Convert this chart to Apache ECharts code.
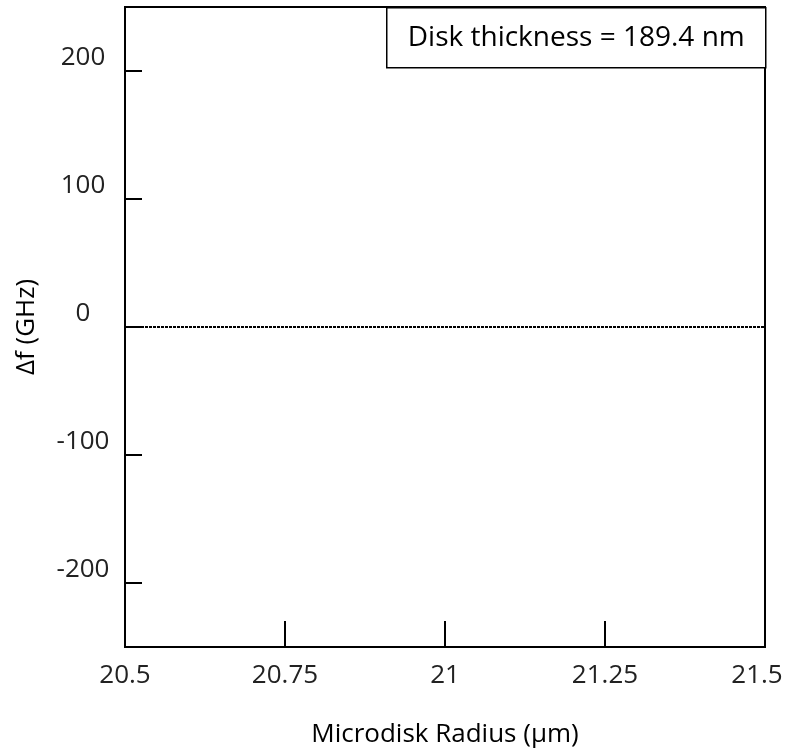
<!DOCTYPE html>
<html><head><meta charset="utf-8">
<script src="https://cdn.jsdelivr.net/npm/echarts@6/dist/echarts.min.js"></script>
<style>html,body{margin:0;padding:0;background:#fff}#c{width:786px;height:751px}</style>
</head><body><div id="c"></div>
<script>
var xTicks = [20.5, 20.75, 21, 21.25, 21.5];
var yTicks = [-200, -100, 0, 100, 200];
var zeroLineX = [20.5, 21.5];
var zeroLineY = [0, 0];
var xTitle = 'Microdisk Radius (µm)';
var yTitle = 'Δf (GHz)';
var boxText = 'Disk thickness = 189.4 nm';

var FONT = 'Open Sans';
var chart = echarts.init(document.getElementById('c'), null, {renderer: 'canvas'});
chart.setOption({
  animation: false,
  backgroundColor: '#fff',
  grid: {left: 125, right: 21, top: 7, bottom: 104, show: true, borderColor: '#000', borderWidth: 2,
    outerBoundsMode: 'none', containLabel: false},
  xAxis: {
    type: 'value', min: 20.5, max: 21.5, interval: 0.25,
    name: xTitle, nameLocation: 'middle', nameGap: 75,
    nameTextStyle: {fontFamily: FONT, fontSize: 26, color: '#000'},
    axisLine: {show: true, onZero: false, lineStyle: {color: '#000', width: 2}},
    axisTick: {show: true, inside: true, length: 26, lineStyle: {color: '#000', width: 2}, customValues: xTicks},
    axisLabel: {fontFamily: FONT, fontSize: 26, color: '#222', margin: 16, customValues: xTicks,
      formatter: function(v){ return v === xTicks[xTicks.length - 1] ? '{last|' + v + '}' : String(v); },
      rich: {last: {fontFamily: FONT, fontSize: 26, color: '#222', padding: [0, 16, 0, 0]}}},
    splitLine: {show: false}
  },
  yAxis: {
    type: 'value', min: -250, max: 250,
    name: yTitle, nameLocation: 'middle', nameGap: 85, nameRotate: 90,
    nameTextStyle: {fontFamily: FONT, fontSize: 26, color: '#000'},
    axisLine: {show: true, onZero: false, lineStyle: {color: '#000', width: 2}},
    axisTick: {show: true, inside: true, length: 17, lineStyle: {color: '#000', width: 2}, customValues: yTicks},
    axisLabel: {fontFamily: FONT, fontSize: 26, color: '#222', margin: 42, align: 'center',
      verticalAlign: 'bottom', lineHeight: 26, customValues: yTicks},
    splitLine: {show: false}
  },
  graphic: [{
    type: 'group', left: 386, top: 7,
    children: [
      {type: 'rect', shape: {x: 0, y: 0, width: 379, height: 60}, style: {fill: '#fff', stroke: '#000', lineWidth: 1.5}},
      {type: 'text', x: 189.5, y: 30, style: {text: boxText, fontFamily: FONT, fontSize: 28, fill: '#000', align: 'center', verticalAlign: 'middle'}}
    ]
  }],
  series: [{
    type: 'line', symbol: 'none', silent: true,
    data: zeroLineX.map(function(x, i){ return [x, zeroLineY[i]]; }),
    lineStyle: {color: '#000', width: 2, type: [3, 1]}
  }]
});
</script></body></html>
